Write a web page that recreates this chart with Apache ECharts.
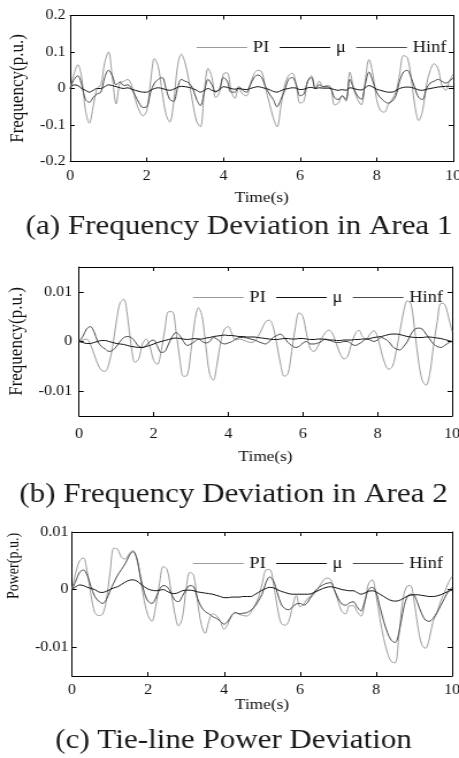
<!DOCTYPE html>
<html><head><meta charset="utf-8">
<script src="https://cdn.jsdelivr.net/npm/echarts@6/dist/echarts.min.js"></script>
<style>
html,body{margin:0;padding:0;background:#fff;overflow:hidden;}
#wrap{width:459px;height:758px;overflow:hidden;}
#chart{width:399px;height:758px;transform:scaleX(1.1504);transform-origin:0 0;}
</style></head><body><div id="wrap"><div id="chart"></div></div>
<script>
// ---------------- data ----------------
const time = [0,0.1,0.2,0.3,0.4,0.5,0.6,0.7,0.8,0.9,1,1.1,1.2,1.3,1.4,1.5,1.6,1.7,1.8,1.9,2,2.1,2.2,2.3,2.4,2.5,2.6,2.7,2.8,2.9,3,3.1,3.2,3.3,3.4,3.5,3.6,3.7,3.8,3.9,4,4.1,4.2,4.3,4.4,4.5,4.6,4.7,4.8,4.9,5,5.1,5.2,5.3,5.4,5.5,5.6,5.7,5.8,5.9,6,6.1,6.2,6.3,6.4,6.5,6.6,6.7,6.8,6.9,7,7.1,7.2,7.3,7.4,7.5,7.6,7.7,7.8,7.9,8,8.1,8.2,8.3,8.4,8.5,8.6,8.7,8.8,8.9,9,9.1,9.2,9.3,9.4,9.5,9.6,9.7,9.8,9.9,10];
const seriesNames = ['PI','μ','Hinf'];
const xTicks = [0,2,4,6,8,10];
const yTicksA = [-0.2,-0.1,0,0.1,0.2];
const yTicksB = [-0.01,0,0.01];
const yTicksC = [-0.01,0,0.01];

// (a) Frequency deviation in area 1
const a_PI = [0,0.04,0.065,0.03,-0.06,-0.095,-0.05,0.0,0.01,0.07,0.10,0.03,-0.042,0.015,0.02,0.025,0.01,-0.03,-0.06,-0.075,-0.06,0.02,0.082,0.06,-0.01,-0.07,-0.092,-0.04,0.06,0.094,0.07,0.02,-0.04,-0.09,-0.105,-0.01,0.055,0.03,-0.025,-0.01,0.04,0.043,-0.005,-0.027,0.0,-0.015,-0.02,0.01,0.04,0.05,0.045,0.0,-0.04,-0.08,-0.105,-0.05,0.01,0.035,0.042,0.01,-0.04,-0.035,0.02,0.035,0.0,0.02,0.005,0.008,0.005,-0.045,-0.04,-0.02,-0.035,0.045,0.0,-0.03,-0.045,0.02,0.079,0.04,-0.03,-0.06,-0.065,-0.045,-0.03,-0.01,0.04,0.09,0.085,0.03,-0.05,-0.088,-0.06,0.01,0.05,0.068,0.055,0.01,-0.005,0.02,0.04];
const a_MU = [0,0.01,0.008,0.0,-0.005,-0.01,-0.005,0.0,0.0,0.005,0.01,0.008,0.005,0.002,0.0,0.002,-0.002,-0.005,-0.008,-0.01,-0.01,-0.005,0.0,0.002,0.0,-0.003,-0.005,-0.002,0.003,0.006,0.005,0.003,0.0,-0.005,-0.01,-0.005,0.0,-0.005,-0.008,-0.003,0.005,0.003,0.0,-0.002,0.0,-0.002,-0.003,0.0,0.003,0.005,0.003,0.0,-0.003,-0.008,-0.01,-0.006,-0.002,0.0,0.002,0.001,-0.003,-0.002,0.002,0.003,0.0,0.002,0.001,0.001,0.0,-0.003,-0.005,-0.003,-0.005,0.002,0.0,-0.003,-0.004,0.002,0.008,0.004,-0.002,-0.005,-0.008,-0.01,-0.01,-0.006,0.0,0.003,0.004,0.003,0.0,-0.004,-0.005,-0.002,0.0,0.002,0.004,0.005,0.006,0.006,0.005];
const a_HINF = [0,0.025,0.035,0.01,-0.03,-0.038,-0.025,-0.015,-0.01,0.03,0.05,0.035,0.01,0.018,0.008,0.01,0.0,-0.02,-0.04,-0.052,-0.05,-0.01,0.015,0.025,0.03,0.0,-0.03,-0.035,0.0,0.025,0.02,0.015,0.0,-0.03,-0.047,-0.01,0.025,0.01,-0.01,0.0,0.03,0.02,-0.01,-0.01,0.005,-0.005,-0.01,0.01,0.03,0.037,0.03,0.005,-0.015,-0.03,-0.05,-0.03,-0.005,0.025,0.03,0.01,-0.02,-0.015,0.02,0.03,0.0,0.01,0.005,0.005,0.0,-0.025,-0.03,-0.02,-0.03,0.025,0.0,-0.02,-0.03,0.01,0.045,0.02,-0.01,-0.025,-0.035,-0.04,-0.035,-0.02,0.02,0.045,0.05,0.03,0.0,-0.025,-0.03,0.0,0.015,0.02,0.025,0.02,0.015,0.02,0.03];

// (b) Frequency deviation in area 2
const b_PI = [0,0.0003,0.0005,-0.0005,-0.0025,-0.0045,-0.0058,-0.006,-0.0045,-0.001,0.004,0.0078,0.0085,0.005,-0.001,-0.0042,-0.0035,-0.0005,0.0005,-0.001,-0.0038,-0.0046,-0.002,0.0025,0.006,0.006,0.002,-0.0035,-0.007,-0.0068,-0.002,0.004,0.0068,0.005,-0.001,-0.0065,-0.0078,-0.0045,0.0,0.0025,0.003,0.0015,0.0003,0.0005,0.0003,0.0,-0.0002,0.0,0.001,0.0025,0.004,0.0043,0.003,-0.0005,-0.0045,-0.007,-0.0065,-0.002,0.003,0.0058,0.005,0.0015,-0.0015,-0.002,-0.001,0.0005,0.0018,0.0023,0.0015,-0.0005,-0.0025,-0.0035,-0.003,-0.0005,0.0015,0.0023,0.001,0.0005,0.0015,0.0022,0.001,-0.002,-0.0045,-0.0056,-0.005,-0.002,0.002,0.006,0.0082,0.0075,0.002,-0.004,-0.0078,-0.0088,-0.0065,-0.001,0.004,0.0077,0.0075,0.005,0.002];
const b_MU = [0,-0.0002,-0.0004,-0.0004,-0.0002,0.0,0.0002,0.0002,0.0,-0.0002,-0.0004,-0.0005,-0.0006,-0.0008,-0.001,-0.0011,-0.0012,-0.0012,-0.001,-0.0008,-0.0005,-0.0002,0.0,0.0002,0.0004,0.0006,0.0007,0.0006,0.0005,0.0004,0.0005,0.0006,0.0005,0.0005,0.0007,0.0008,0.001,0.0011,0.0012,0.0013,0.0012,0.0012,0.0011,0.001,0.001,0.0009,0.0009,0.0009,0.0008,0.0007,0.0006,0.0005,0.0004,0.0004,0.0005,0.0006,0.0006,0.0005,0.0005,0.0006,0.0006,0.0005,0.0004,0.0004,0.0005,0.0005,0.0004,0.0003,0.0003,0.0002,0.0002,0.0003,0.0003,0.0003,0.0004,0.0004,0.0005,0.0005,0.0006,0.0008,0.0009,0.001,0.0012,0.0014,0.0015,0.0015,0.0014,0.0012,0.001,0.0009,0.0008,0.0008,0.0008,0.0009,0.0009,0.0008,0.0007,0.0006,0.0004,0.0002,0.0];
const b_HINF = [0,0.001,0.0025,0.003,0.002,0.0,-0.001,-0.0015,-0.002,-0.0018,-0.001,0.0,0.0008,0.001,0.0008,0.0,-0.001,-0.0012,-0.0008,0.0,0.0003,-0.001,-0.0022,-0.002,-0.0005,0.001,0.0018,0.0012,0.0,-0.0008,-0.0005,0.0,0.0005,0.0,-0.0003,0.0,0.0008,0.0005,-0.0002,-0.0005,-0.0003,0.0,0.0005,0.0008,0.0008,0.0007,0.0005,0.0003,0.0,-0.0003,-0.0005,0.0,0.0008,0.0012,0.0015,0.0008,-0.0002,-0.0008,-0.0012,-0.001,-0.0003,0.0,-0.0005,-0.0005,-0.0003,0.0,0.0005,0.0003,0.0,-0.0002,-0.0002,0.0,0.0,-0.0005,-0.0008,-0.0005,0.0,0.0005,0.0003,0.0,0.0003,0.0008,0.0005,0.0,-0.001,-0.0015,-0.0017,-0.001,0.0,0.0015,0.0025,0.0027,0.0025,0.0015,0.0005,-0.0005,-0.001,-0.0012,-0.0008,-0.0003,0.0];

// (c) Tie-line power deviation
const c_PI = [0,0.003,0.005,0.0055,0.003,-0.001,-0.004,-0.0045,-0.0043,-0.002,0.003,0.0072,0.007,0.0056,0.0053,0.0062,0.0068,0.0055,0.002,-0.002,-0.0045,-0.0055,-0.003,0.001,0.004,0.0035,0.0,-0.004,-0.0063,-0.005,0.0,0.003,0.0025,-0.002,-0.006,-0.0076,-0.0055,-0.0042,-0.0045,-0.0055,-0.0069,-0.006,-0.0045,-0.004,-0.0043,-0.0045,-0.0046,-0.004,-0.0028,-0.0015,0.001,0.0034,0.0035,0.001,-0.003,-0.0058,-0.0062,-0.0055,-0.003,-0.001,-0.003,-0.0025,-0.0015,-0.0013,-0.0005,0.0005,0.0015,0.002,0.0018,0.0,-0.002,-0.0038,-0.0042,-0.0028,-0.0028,-0.0038,-0.0046,-0.0025,0.001,0.0017,-0.001,-0.005,-0.0085,-0.011,-0.0125,-0.0127,-0.008,-0.002,0.0005,0.0007,-0.002,-0.0065,-0.0095,-0.0102,-0.0085,-0.0055,-0.004,-0.002,-0.0005,0.0012,0.0023];
const c_MU = [0,0.0005,0.0008,0.0007,0.0004,0.0002,0.0,-0.0004,-0.0005,-0.0003,0.0,0.0003,0.0005,0.0009,0.0013,0.0016,0.0017,0.0015,0.001,0.0005,0.0001,-0.0001,-0.0002,-0.0001,0.0,-0.0003,-0.0006,-0.0007,-0.0005,-0.0002,-0.0001,-0.0001,-0.0002,-0.0004,-0.0005,-0.0006,-0.0007,-0.0008,-0.001,-0.0012,-0.0014,-0.0014,-0.0013,-0.0013,-0.0013,-0.0012,-0.0012,-0.0012,-0.0009,-0.0005,-0.0001,0.0002,0.0004,0.0003,0.0,-0.0003,-0.0005,-0.0007,-0.0008,-0.0008,-0.0008,-0.0008,-0.0008,-0.0007,-0.0004,-0.0001,0.0002,0.0004,0.0005,0.0004,0.0002,0.0,-0.0001,-0.0002,-0.0002,-0.0005,-0.0008,-0.0006,-0.0003,-0.0002,-0.0004,-0.0008,-0.0012,-0.0016,-0.0019,-0.002,-0.0019,-0.0016,-0.0012,-0.001,-0.0009,-0.0009,-0.001,-0.0011,-0.0012,-0.0012,-0.0011,-0.0009,-0.0006,-0.0003,-0.0001];
const c_HINF = [0,0.0015,0.003,0.0034,0.0025,0.0005,-0.0012,-0.002,-0.0024,-0.0018,-0.0002,0.0012,0.0025,0.0035,0.0045,0.0058,0.0066,0.0055,0.0023,-0.0005,-0.002,-0.0024,-0.0015,0.0,0.0007,0.0005,-0.0005,-0.0018,-0.0021,-0.0012,0.0,0.0007,0.0005,-0.0015,-0.003,-0.0038,-0.0042,-0.0047,-0.005,-0.0055,-0.006,-0.0055,-0.0045,-0.004,-0.0042,-0.0041,-0.004,-0.0036,-0.003,-0.002,-0.0008,0.0012,0.0022,0.0015,-0.0005,-0.0025,-0.0033,-0.0035,-0.003,-0.0025,-0.0024,-0.0027,-0.0022,-0.001,-0.0002,0.0004,0.0008,0.0011,0.0012,0.0,-0.0015,-0.0025,-0.0027,-0.0023,-0.0021,-0.003,-0.0037,-0.002,0.0,0.0004,-0.0005,-0.003,-0.0055,-0.0075,-0.0088,-0.0092,-0.0075,-0.004,-0.0015,-0.0008,-0.001,-0.0025,-0.0042,-0.0053,-0.0055,-0.005,-0.004,-0.0028,-0.0015,-0.0003,0.0004];

// ---------------- layout / style ----------------
const FONT = '"Liberation Serif","Times New Roman",serif';
const COLORS = {'PI':'#9b9b9b','μ':'#111111','Hinf':'#4a4a4a'};
const panels = [
  {grid:{left:61,right:5,top:15.5,height:146}, ymin:-0.2, ymax:0.2, yticks:yTicksA,
   yName:'Frequency(p.u.)', yNameSize:17, yNameGap:36, yNameShift:0, xNameGap:29, xLabelMargin:8, yLabelMargin:4,
   legendTop:39.5, legendRight:11, vals:[a_PI,a_MU,a_HINF]},
  {grid:{left:68.7,right:6,top:267,height:149}, ymin:-0.015, ymax:0.015, yticks:yTicksB,
   yName:'Frequency(p.u.)', yNameSize:17, yNameGap:42, yNameShift:0, xNameGap:34, xLabelMargin:11, yLabelMargin:6,
   legendTop:289.5, legendRight:14, vals:[b_PI,b_MU,b_HINF]},
  {grid:{left:62.6,right:6,top:532,height:144}, ymin:-0.015, ymax:0.01, yticks:yTicksC,
   yName:'Power(p.u.)', yNameSize:14, yNameGap:38, yNameShift:76, xNameGap:22, xLabelMargin:7, yLabelMargin:3,
   legendTop:555.5, legendRight:14, vals:[c_PI,c_MU,c_HINF]}
];
const captions = [
  {text:'(a) Frequency Deviation in Area 1', x:207.8, y:227},
  {text:'(b) Frequency Deviation in Area 2', x:203, y:495},
  {text:'(c) Tie-line Power Deviation', x:203, y:741}
];

const grid=[], xAxis=[], yAxis=[], series=[], legend=[];
const axisLine = {show:true, onZero:false, lineStyle:{color:'#000', width:1}};
const tick = {show:true, inside:true, length:4, lineStyle:{color:'#000'}};
const lblStyle = {color:'#111', fontSize:14, fontFamily:FONT};
panels.forEach((p,i)=>{
  grid.push(Object.assign({containLabel:false, outerBoundsMode:'none'}, p.grid));
  // bottom x
  xAxis.push({type:'value', gridIndex:i, min:0, max:10, position:'bottom',
    name:'Time(s)', nameLocation:'middle', nameGap:p.xNameGap,
    nameTextStyle:{color:'#111', fontSize:15, fontFamily:FONT},
    axisLine, axisTick:Object.assign({customValues:xTicks},tick),
    axisLabel:Object.assign({customValues:xTicks, margin:p.xLabelMargin}, lblStyle),
    splitLine:{show:false}});
  // top x (box)
  xAxis.push({type:'value', gridIndex:i, min:0, max:10, position:'top',
    axisLine, axisTick:Object.assign({customValues:xTicks},tick),
    axisLabel:{show:false}, splitLine:{show:false}});
  // left y
  yAxis.push({type:'value', gridIndex:i, min:p.ymin, max:p.ymax, position:'left',
    name:p.yName, nameLocation:'middle', nameGap:p.yNameGap, nameRotate:90,
    nameTextStyle:{color:'#111', fontSize:p.yNameSize, fontFamily:FONT, padding:[0,0,0,p.yNameShift]},
    axisLine, axisTick:Object.assign({customValues:p.yticks},tick),
    axisLabel:Object.assign({customValues:p.yticks, margin:p.yLabelMargin,
      formatter:v=>String(v)}, lblStyle),
    splitLine:{show:false}});
  // right y (box)
  yAxis.push({type:'value', gridIndex:i, min:p.ymin, max:p.ymax, position:'right',
    axisLine, axisTick:Object.assign({customValues:p.yticks},tick),
    axisLabel:{show:false}, splitLine:{show:false}});
  // series: PI, Hinf, mu (mu drawn on top)
  [0,2,1].forEach(k=>{
    const name = seriesNames[k];
    series.push({type:'line', name, xAxisIndex:2*i, yAxisIndex:2*i,
      data: time.map((t,j)=>[t, p.vals[k][j]]),
      symbol:'none', showSymbol:false, smooth:0.35,
      lineStyle:{color:COLORS[name], width:1},
      itemStyle:{color:COLORS[name]},
      emphasis:{disabled:true}, animation:false});
  });
  legend.push({data:seriesNames, top:p.legendTop, right:p.legendRight, orient:'horizontal',
    icon:'rect', itemWidth:44, itemHeight:1, itemGap:9, padding:0, selectedMode:false,
    textStyle:{color:'#111', fontSize:16, fontFamily:FONT, lineHeight:1, padding:0}});
});

const chart = echarts.init(document.getElementById('chart'), null, {renderer:'canvas'});
chart.setOption({
  animation:false,
  backgroundColor:'#fff',
  grid, xAxis, yAxis, series, legend,
  graphic: captions.map(c=>({type:'text', x:c.x, y:c.y,
    style:{text:c.text, fontSize:27, fontFamily:FONT, fill:'#1a1a1a', align:'center', verticalAlign:'middle'}}))
});
</script></body></html>
